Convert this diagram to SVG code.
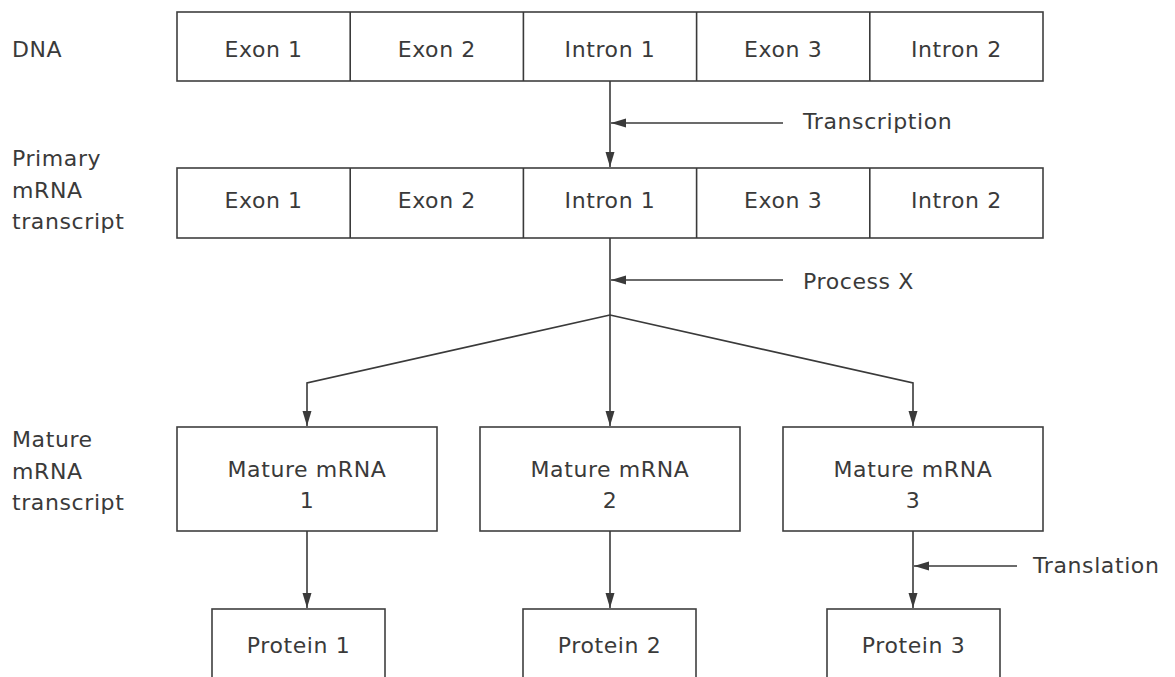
<svg xmlns="http://www.w3.org/2000/svg" width="1175" height="677" viewBox="0 0 1175 677">
<defs>
<marker id="ah" viewBox="0 0 15 10" refX="15" refY="5" markerWidth="15" markerHeight="10" markerUnits="userSpaceOnUse" orient="auto">
<path d="M0,0.5 L15,5 L0,9.5 Z" fill="#3a3a3a"/>
</marker>
<style>
text{font-family:"DejaVu Sans","Liberation Sans",sans-serif;font-size:22px;fill:#3a3a3a;letter-spacing:0.6px}
.c{text-anchor:middle}
.box{fill:#fff;stroke:#3f3f3f;stroke-width:1.6}
.ln{fill:none;stroke:#3a3a3a;stroke-width:1.6}
</style>
</defs>
<rect width="1175" height="677" fill="#fff"/>

<g id="labels">
<text x="12" y="57">DNA</text>
<text x="12" y="166">Primary</text>
<text x="12" y="197.5">mRNA</text>
<text x="12" y="229">transcript</text>
<text x="12" y="447">Mature</text>
<text x="12" y="478.5">mRNA</text>
<text x="12" y="510">transcript</text>
</g>

<g id="dna">
<rect class="box" x="177" y="12" width="866" height="69"/>
<path class="ln" d="M350.2,12V81M523.4,12V81M696.6,12V81M869.8,12V81"/>
<text class="c" x="263.6" y="57">Exon 1</text>
<text class="c" x="436.8" y="57">Exon 2</text>
<text class="c" x="610" y="57">Intron 1</text>
<text class="c" x="783.2" y="57">Exon 3</text>
<text class="c" x="956.4" y="57">Intron 2</text>
</g>

<g id="primary">
<rect class="box" x="177" y="168" width="866" height="70"/>
<path class="ln" d="M350.2,168V238M523.4,168V238M696.6,168V238M869.8,168V238"/>
<text class="c" x="263.6" y="208">Exon 1</text>
<text class="c" x="436.8" y="208">Exon 2</text>
<text class="c" x="610" y="208">Intron 1</text>
<text class="c" x="783.2" y="208">Exon 3</text>
<text class="c" x="956.4" y="208">Intron 2</text>
</g>

<g id="mature1">
<rect class="box" x="177" y="427" width="260" height="104"/>
<text class="c" x="307" y="477">Mature mRNA</text>
<text class="c" x="307" y="508">1</text>
</g>
<g id="mature2">
<rect class="box" x="480" y="427" width="260" height="104"/>
<text class="c" x="610" y="477">Mature mRNA</text>
<text class="c" x="610" y="508">2</text>
</g>
<g id="mature3">
<rect class="box" x="783" y="427" width="260" height="104"/>
<text class="c" x="913" y="477">Mature mRNA</text>
<text class="c" x="913" y="508">3</text>
</g>

<g id="protein1">
<rect class="box" x="212" y="609" width="173" height="90"/>
<text class="c" x="298.5" y="653">Protein 1</text>
</g>
<g id="protein2">
<rect class="box" x="523" y="609" width="173" height="90"/>
<text class="c" x="609.5" y="653">Protein 2</text>
</g>
<g id="protein3">
<rect class="box" x="827" y="609" width="173" height="90"/>
<text class="c" x="913.5" y="653">Protein 3</text>
</g>

<g id="process-labels">
<text x="803" y="129">Transcription</text>
<text x="803" y="289">Process X</text>
<text x="1033" y="573">Translation</text>
</g>

<g id="connectors">
<line class="ln" x1="610" y1="81" x2="610" y2="167" marker-end="url(#ah)"/>
<line class="ln" x1="783" y1="123" x2="611" y2="123" marker-end="url(#ah)"/>
<line class="ln" x1="610" y1="238" x2="610" y2="426" marker-end="url(#ah)"/>
<line class="ln" x1="783" y1="280" x2="611" y2="280" marker-end="url(#ah)"/>
<polyline class="ln" points="610,315 307,383 307,426" marker-end="url(#ah)"/>
<polyline class="ln" points="610,315 913,383 913,426" marker-end="url(#ah)"/>
<line class="ln" x1="307" y1="531" x2="307" y2="608" marker-end="url(#ah)"/>
<line class="ln" x1="610" y1="531" x2="610" y2="608" marker-end="url(#ah)"/>
<line class="ln" x1="913" y1="531" x2="913" y2="608" marker-end="url(#ah)"/>
<line class="ln" x1="1017" y1="566" x2="914" y2="566" marker-end="url(#ah)"/>
</g>
</svg>
